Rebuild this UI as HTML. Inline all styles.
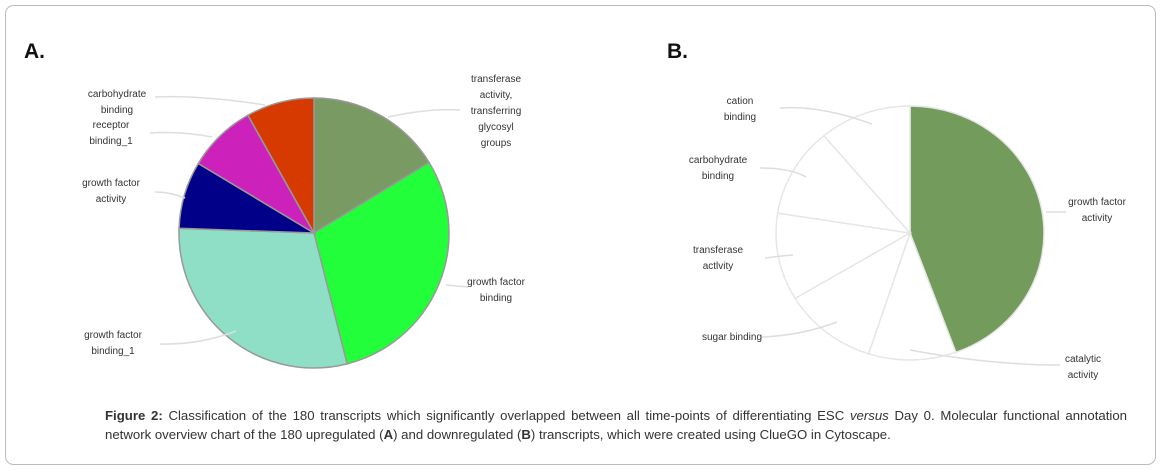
<!DOCTYPE html>
<html><head><meta charset="utf-8"><style>
body{margin:0;background:#fff;width:1162px;height:470px;overflow:hidden;font-family:"Liberation Sans",sans-serif}
svg{position:absolute;left:0;top:0}
.cap{position:absolute;left:105px;top:406px;width:1022px;font-size:13.2px;line-height:19px;color:#333;text-align:justify}
</style></head><body>
<svg width="1162" height="470">
<rect x="5.5" y="5.5" width="1150" height="459" rx="8" fill="#fff" stroke="#bbb"/>
<text x="24" y="58" font-size="21" font-weight="bold" fill="#111">A.</text>
<text x="667" y="58" font-size="21" font-weight="bold" fill="#111">B.</text>
<g id="pa"></g><g id="pb"></g>
</svg>
<div class="cap"><b>Figure 2:</b> Classification of the 180 transcripts which significantly overlapped between all time-points of differentiating ESC <i>versus</i> Day 0. Molecular functional annotation network overview chart of the 180 upregulated (<b>A</b>) and downregulated (<b>B</b>) transcripts, which were created using ClueGO in Cytoscape.</div>
<script>
const catsA=["transferase activity, transferring glycosyl groups","growth factor binding","growth factor binding_1","growth factor activity","receptor binding_1","carbohydrate binding"];
const valsA=[58.5,107.3,106.2,29,29.7,29.3];
const colsA=["#7a9a64","#22ff3a","#8fdfc6","#000088","#cc22bb","#d63a00"];
const catsB=["growth factor activity","catalytic activity","sugar binding","transferase activity","carbohydrate binding","cation binding"];
const valsB=[160,38,41,40,41,40];
const colsB=["#739c5c","#fff","#fff","#fff","#fff","#fff"];
const labA=[[[496,82],["transferase","activity,","transferring","glycosyl","groups"],"M388,117 Q430,108 460,110"],
[[496,285],["growth factor","binding"],"M446,285 L468,287"],
[[113,338],["growth factor","binding_1"],"M236,331 Q200,345 160,344"],
[[111,186],["growth factor","activity"],"M185,198 Q170,192 155,192"],
[[111,128],["receptor","binding_1"],"M212,137 Q180,131 150,133"],
[[117,97],["carbohydrate","binding"],"M265,105 Q200,95 155,97"]];
const labB=[[[1097,205],["growth factor","activity"],"M1046,212 L1066,212"],
[[1083,362],["catalytic","activity"],"M910,350 Q990,365 1060,365"],
[[732,340],["sugar binding"],"M837,322 Q800,336 760,337"],
[[718,253],["transferase","actlvity"],"M793,255 Q780,256 765,258"],
[[718,163],["carbohydrate","binding"],"M806,177 Q790,168 760,168"],
[[740,104],["cation","binding"],"M872,124 Q820,105 780,108"]];
function pie(gid,cx,cy,rx,ry,vals,cols,cats,labs,stroke,tag){
 const g=document.getElementById(gid);const ns="http://www.w3.org/2000/svg";
 const tot=vals.reduce((a,b)=>a+b,0);let a0=0;
 vals.forEach((v,i)=>{const a1=a0+v/tot*2*Math.PI;
  const p=(a)=>[cx+rx*Math.sin(a),cy-ry*Math.cos(a)];const s=p(a0),e=p(a1);
  const el=document.createElementNS(ns,"path");
  el.setAttribute("d",`M${cx},${cy}L${s[0]},${s[1]}A${rx},${ry} 0 ${a1-a0>Math.PI?1:0} 1 ${e[0]},${e[1]}Z`);
  el.setAttribute("fill",cols[i]);el.setAttribute("stroke",stroke);el.setAttribute("stroke-width","1.5");
  
  
  g.appendChild(el);a0=a1;});
 labs.forEach((l,i)=>{const ln=document.createElementNS(ns,"path");
  ln.setAttribute("d",l[2]);ln.setAttribute("fill","none");ln.setAttribute("stroke","#ddd");ln.setAttribute("stroke-width","1.5");
  
  
  g.appendChild(ln);
  const t=document.createElementNS(ns,"text");t.setAttribute("font-size","10");t.setAttribute("fill","#333");t.setAttribute("text-anchor","middle");
  
  
  l[1].forEach((w,j)=>{const ts=document.createElementNS(ns,"tspan");ts.setAttribute("x",l[0][0]);ts.setAttribute("y",l[0][1]+j*16);ts.textContent=w;t.appendChild(ts);});
  g.appendChild(t);});
}
pie("pa",314,233,135,135,valsA,colsA,catsA,labA,"#999","pie-a");
pie("pb",910,233,134,127,valsB,colsB,catsB,labB,"#e6e6e6","pie-b");
</script>
</body></html>
